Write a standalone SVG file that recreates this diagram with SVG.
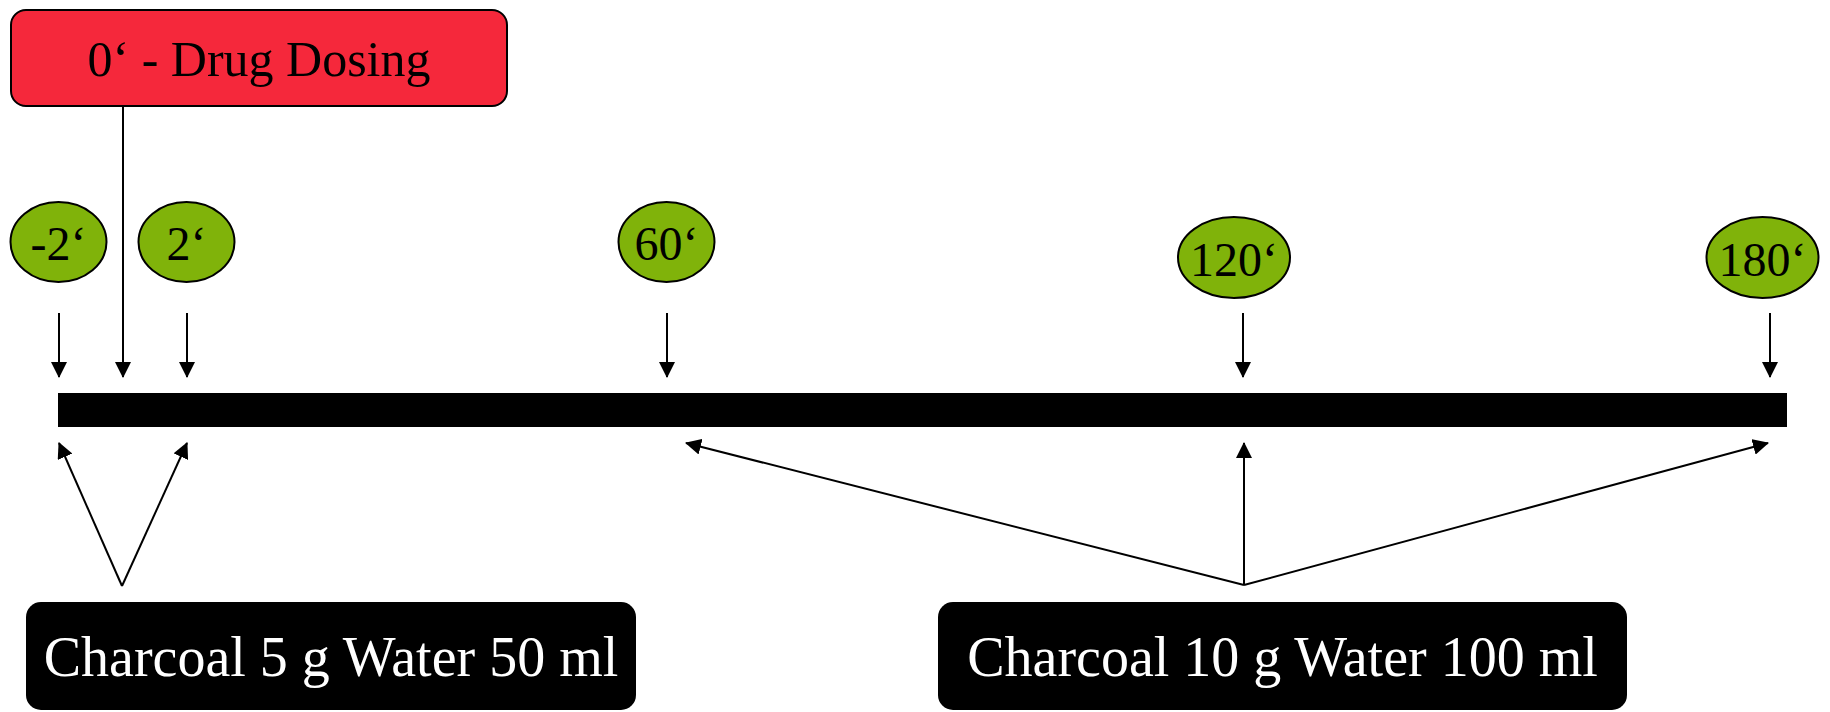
<svg xmlns="http://www.w3.org/2000/svg" width="1830" height="712" viewBox="0 0 1830 712">
<style>
.t{font-family:"Liberation Serif","Times New Roman",serif;text-anchor:middle}
.ell{fill:#80B30A;stroke:#000;stroke-width:2}
.ln{stroke:#000;stroke-width:2;fill:none}
.dark{fill:#000}
</style>
<defs>
<marker id="ah" markerUnits="userSpaceOnUse" markerWidth="16" markerHeight="16" refX="15" refY="8" orient="auto">
<path d="M0,0 L16,8 L0,16 z" fill="#000"/>
</marker>
</defs>
<rect width="1830" height="712" fill="#fff"/>
<g id="dosing">
<rect x="11" y="10" width="496" height="96" rx="15" fill="#F5283B" stroke="#000" stroke-width="2"/>
<text class="t" x="259" y="76" font-size="50">0‘ - Drug Dosing</text>
</g>
<g id="timeline">
<rect x="58" y="393" width="1729" height="34" fill="#000"/>
</g>
<g id="t-2">
<ellipse class="ell" cx="58.5" cy="242" rx="48" ry="40"/>
<text class="t" x="58.5" y="260" font-size="48">-2‘</text>
</g>
<g id="t2">
<ellipse class="ell" cx="186.5" cy="242" rx="48" ry="40"/>
<text class="t" x="186.5" y="260" font-size="48">2‘</text>
</g>
<g id="t60">
<ellipse class="ell" cx="666.5" cy="242" rx="48" ry="40"/>
<text class="t" x="666.5" y="260" font-size="48">60‘</text>
</g>
<g id="t120">
<ellipse class="ell" cx="1234" cy="257.5" rx="56" ry="40.5"/>
<text class="t" x="1234" y="276" font-size="48">120‘</text>
</g>
<g id="t180">
<ellipse class="ell" cx="1762.5" cy="257.5" rx="56" ry="40.5"/>
<text class="t" x="1762.5" y="276" font-size="48">180‘</text>
</g>
<g id="charcoal5">
<rect class="dark" x="26" y="602" width="610" height="108" rx="15"/>
<text class="t" x="331" y="676" font-size="56" fill="#fff">Charcoal 5 g Water 50 ml</text>
</g>
<g id="charcoal10">
<rect class="dark" x="938" y="602" width="689" height="108" rx="15"/>
<text class="t" x="1282.5" y="676" font-size="56" fill="#fff">Charcoal 10 g Water 100 ml</text>
</g>
<g id="connectors">
<line class="ln" x1="123" y1="106" x2="123" y2="377" marker-end="url(#ah)"/>
<line class="ln" x1="59" y1="313" x2="59" y2="377" marker-end="url(#ah)"/>
<line class="ln" x1="187" y1="313" x2="187" y2="377" marker-end="url(#ah)"/>
<line class="ln" x1="667" y1="313" x2="667" y2="377" marker-end="url(#ah)"/>
<line class="ln" x1="1243" y1="313" x2="1243" y2="377" marker-end="url(#ah)"/>
<line class="ln" x1="1770" y1="313" x2="1770" y2="377" marker-end="url(#ah)"/>
<line class="ln" x1="122" y1="586" x2="59" y2="443" marker-end="url(#ah)"/>
<line class="ln" x1="122" y1="586" x2="187" y2="443" marker-end="url(#ah)"/>
<line class="ln" x1="1244" y1="585" x2="686" y2="443" marker-end="url(#ah)"/>
<line class="ln" x1="1244" y1="585" x2="1244" y2="443" marker-end="url(#ah)"/>
<line class="ln" x1="1244" y1="585" x2="1768" y2="443" marker-end="url(#ah)"/>
</g>
</svg>
